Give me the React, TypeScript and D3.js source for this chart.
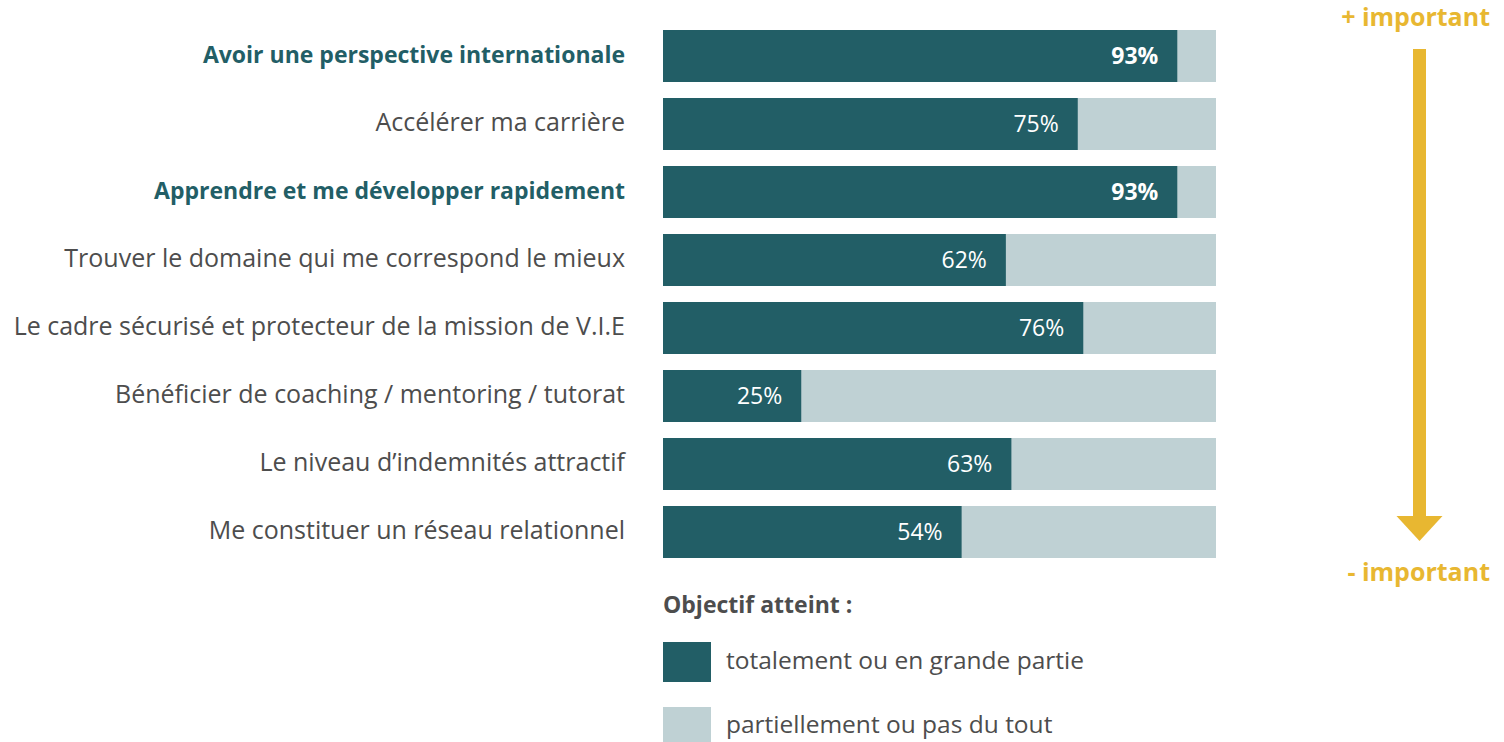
import React from "react";
import * as d3 from "d3";

// survey items, top = most important
const categories = [
  "Avoir une perspective internationale",
  "Accélérer ma carrière",
  "Apprendre et me développer rapidement",
  "Trouver le domaine qui me correspond le mieux",
  "Le cadre sécurisé et protecteur de la mission de V.I.E",
  "Bénéficier de coaching / mentoring / tutorat",
  "Le niveau d’indemnités attractif",
  "Me constituer un réseau relationnel",
];
const reached = [93, 75, 93, 62, 76, 25, 63, 54];
const highlighted = [true, false, true, false, false, false, false, false];
const legendLabels = ["totalement ou en grande partie", "partiellement ou pas du tout"];

const DARK = "#225e66";
const LIGHT = "#bfd1d4";
const GREY = "#4d4d4d";
const GOLD = "#e8b731";
const FONT = "'Open Sans', Lato, sans-serif";

export default function App() {
  const W = 1504;
  const H = 742;
  const x0 = 663;
  const x1 = 1216;
  const n = categories.length;

  const x = d3.scaleLinear().domain([0, 100]).range([x0, x1]);
  const y = d3
    .scaleBand<number>()
    .domain(d3.range(n))
    .range([30, 30 + 68 * n - 16])
    .paddingInner(16 / 68)
    .paddingOuter(0);
  const bh = y.bandwidth();

  const arrowX = 1419.5;

  return (
    <svg width={W} height={H} style={{ position: "absolute", left: 0, top: 0 }} fontFamily={FONT}>
      {categories.map((c, i) => {
        const yy = y(i)!;
        const cy = yy + bh / 2;
        return (
          <g key={c}>
            <rect x={x0} y={yy} width={x1 - x0} height={bh} fill={LIGHT} />
            <rect x={x0} y={yy} width={x(reached[i]) - x0} height={bh} fill={DARK} />
            <text
              x={625}
              y={cy + 7}
              textAnchor="end"
              fontSize={highlighted[i] ? 23 : 25}
              fontWeight={highlighted[i] ? 700 : 400}
              fill={highlighted[i] ? DARK : GREY}
            >
              {c}
            </text>
            <text
              x={x(reached[i]) - 19}
              y={cy + 8}
              textAnchor="end"
              fontSize={23}
              fontWeight={highlighted[i] ? 700 : 400}
              fill="#fff"
            >
              {reached[i]}%
            </text>
          </g>
        );
      })}

      {/* importance arrow */}
      <text x={1490} y={26} textAnchor="end" fontSize={25} fontWeight={700} fill={GOLD}>
        + important
      </text>
      <rect x={arrowX - 6.5} y={49} width={13} height={468} fill={GOLD} />
      <path d={`M${arrowX - 23},516 L${arrowX + 23},516 L${arrowX},541 Z`} fill={GOLD} />
      <text x={1490} y={581} textAnchor="end" fontSize={25} fontWeight={700} fill={GOLD}>
        - important
      </text>

      {/* legend */}
      <text x={663} y={613} fontSize={23} fontWeight={700} fill={GREY}>
        Objectif atteint :
      </text>
      {legendLabels.map((l, i) => (
        <g key={l}>
          <rect x={663} y={642 + i * 65} width={48} height={40} fill={i === 0 ? DARK : LIGHT} />
          <text x={726} y={669 + i * 64} fontSize={24.5} fill={GREY}>
            {l}
          </text>
        </g>
      ))}
    </svg>
  );
}
